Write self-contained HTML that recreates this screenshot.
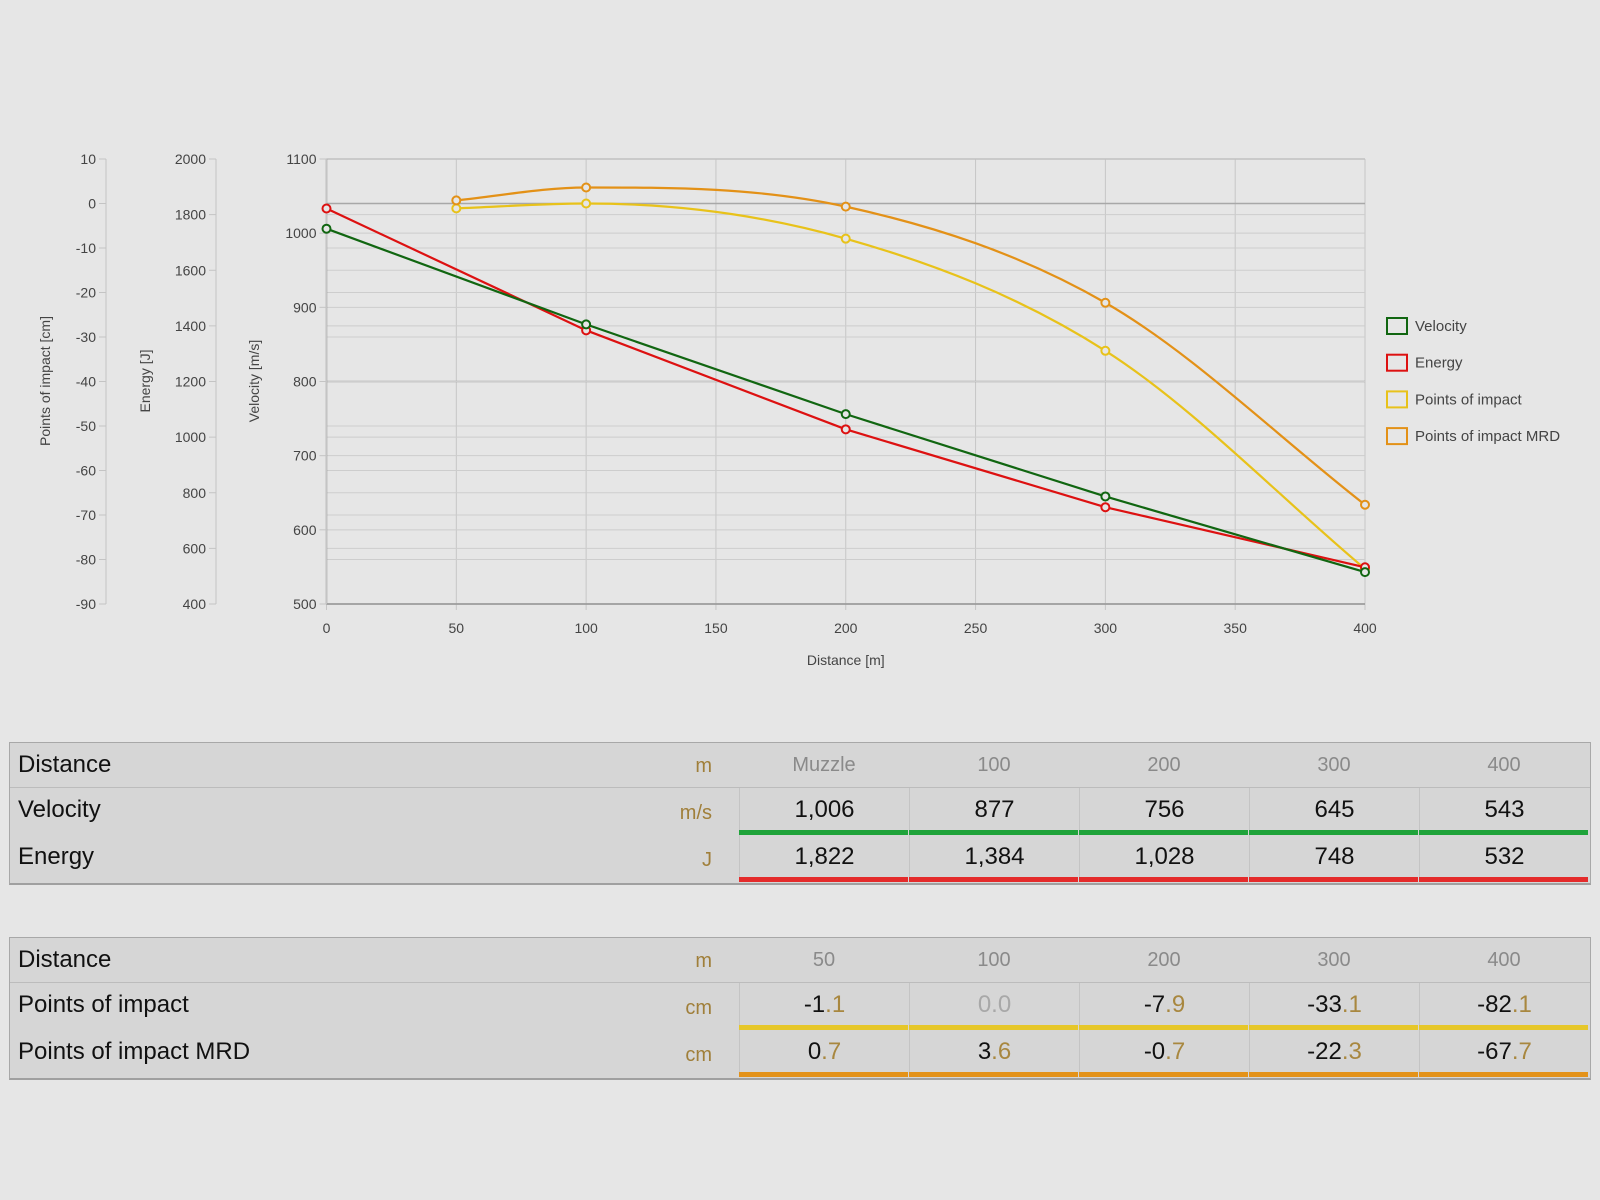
<!DOCTYPE html>
<html><head><meta charset="utf-8">
<style>
body{margin:0;width:1600px;height:1200px;background:#e6e6e6;font-family:"Liberation Sans",sans-serif;overflow:hidden;position:relative}
svg text{font-family:"Liberation Sans",sans-serif}
.tbl{position:absolute;left:9px;width:1580px;background:#d6d6d6;border:1px solid #a8a8a8;border-bottom:2px solid #a0a0a0}
.row{position:absolute;left:0;width:1580px}
.lab{position:absolute;left:8px;font-size:24px;color:#111}
.unit{position:absolute;right:878px;font-size:20px;color:#a07f3a;text-align:right}
.cell{position:absolute;width:170px;text-align:center;font-size:24px;color:#111;box-sizing:border-box;border-left:1px solid #c4c4c4}
.hdr{color:#8a8a8a;font-size:20px;border-left:none}
.dec{color:#a8873f}
.zero .dec{color:#a8a8a8}
.bar{position:absolute;height:5px;width:169px}
</style></head><body>
<svg id="chart" width="1600" height="700" style="position:absolute;left:0;top:0"></svg>

<div class="tbl" style="top:742px;height:140px">
 <div class="row" style="top:0;height:44px;border-bottom:1px solid #bcbcbc">
  <span class="lab" style="top:8px">Distance</span>
  <span class="unit" style="top:12px">m</span>
 </div>
 <div class="row" style="top:45px;height:47px">
  <span class="lab" style="top:8px">Velocity</span>
  <span class="unit" style="top:14px">m/s</span>
 </div>
 <div class="row" style="top:92px;height:47px">
  <span class="lab" style="top:8px">Energy</span>
  <span class="unit" style="top:14px">J</span>
 </div>
 <div id="t1cells"></div>
</div>

<div class="tbl" style="top:937px;height:140px">
 <div class="row" style="top:0;height:44px;border-bottom:1px solid #bcbcbc">
  <span class="lab" style="top:8px">Distance</span>
  <span class="unit" style="top:12px">m</span>
 </div>
 <div class="row" style="top:45px;height:47px">
  <span class="lab" style="top:8px">Points of impact</span>
  <span class="unit" style="top:14px">cm</span>
 </div>
 <div class="row" style="top:92px;height:47px">
  <span class="lab" style="top:8px">Points of impact MRD</span>
  <span class="unit" style="top:14px">cm</span>
 </div>
 <div id="t2cells"></div>
</div>

<script>
const velDist=[0,100,200,300,400];
const velocity=[1006,877,756,645,543];
const energy=[1822,1384,1028,748,532];
const poiDist=[50,100,200,300,400];
const poi=[-1.1,0.0,-7.9,-33.1,-82.1];
const poiMrd=[0.7,3.6,-0.7,-22.3,-67.7];
const xTicks=[0,50,100,150,200,250,300,350,400];
const velTicks=[500,600,700,800,900,1000,1100];
const enTicks=[400,600,800,1000,1200,1400,1600,1800,2000];
const poiTicks=[-90,-80,-70,-60,-50,-40,-30,-20,-10,0,10];
const t1Head=["Muzzle","100","200","300","400"];
const t1Vel=["1,006","877","756","645","543"];
const t1En=["1,822","1,384","1,028","748","532"];
const t2Head=["50","100","200","300","400"];

const NS="http://www.w3.org/2000/svg";
const svg=document.getElementById('chart');
const L=326.5,R=1365,T=159,B=604;
const X=v=>L+(v/400)*(R-L);
const YV=v=>B-(v-500)/600*(B-T);
const YE=v=>B-(v-400)/1600*(B-T);
const YP=v=>B-(v+90)/100*(B-T);
function el(tag,attrs,parent){const e=document.createElementNS(NS,tag);for(const k in attrs)e.setAttribute(k,attrs[k]);(parent||svg).appendChild(e);return e;}

const grid=el('g',{});


xTicks.forEach(t=>{const l=el('line',{x1:X(t),x2:X(t),y1:T,y2:B+(t%50===0?6:0),stroke:'#c6c6c6','stroke-width':1},grid);

});
const hy=[];
velTicks.forEach(t=>hy.push([YV(t),t===800||t===1100||t===500]));
enTicks.forEach(t=>hy.push([YE(t),false]));
poiTicks.forEach(t=>hy.push([YP(t),t===0]));
hy.forEach(([y,dark])=>{const l=el('line',{x1:L,x2:R,y1:y,y2:y,stroke:dark?'#a8a8a8':'#cdcdcd','stroke-width':dark?1.5:1},grid);

});
el('line',{x1:L,x2:L,y1:T,y2:B,stroke:'#9a9a9a','stroke-width':1.5});
el('line',{x1:L,x2:R,y1:B,y2:B,stroke:'#9a9a9a','stroke-width':1.5});

function yAxis(ticks,scale,ax,name,title,tx){
 const g=el('g',{});
 
 
 el('line',{x1:ax,x2:ax,y1:T,y2:B,stroke:'#c4c4c4'},g);
 ticks.forEach(t=>{el('line',{x1:ax-7,x2:ax,y1:scale(t),y2:scale(t),stroke:'#c4c4c4'},g);
  const s=el('text',{x:ax-10,y:scale(t)+5,'text-anchor':'end','font-size':14,fill:'#444'},g);s.textContent=t;
  
  });
 const ti=el('text',{x:tx,y:381,'text-anchor':'middle','font-size':14,fill:'#444',transform:`rotate(-90 ${tx} 381)`},g);
 ti.textContent=title;
 
 
}
yAxis(poiTicks,YP,106,'poi-axis','Points of impact [cm]',50);
yAxis(enTicks,YE,216,'energy-axis','Energy [J]',150);
yAxis(velTicks,YV,L,'velocity-axis','Velocity [m/s]',259);
xTicks.forEach(t=>{const s=el('text',{x:X(t),y:633,'text-anchor':'middle','font-size':14,fill:'#444'});s.textContent=t;
 
 });
const xt=el('text',{x:(L+R)/2,y:665,'text-anchor':'middle','font-size':14,fill:'#444'});xt.textContent='Distance [m]';



function smoothPath(pts){
 const n=pts.length;const d=[],m=[];
 for(let i=0;i<n-1;i++)d.push((pts[i+1][1]-pts[i][1])/(pts[i+1][0]-pts[i][0]));
 m[0]=d[0];m[n-1]=d[n-2];
 for(let i=1;i<n-1;i++)m[i]=d[i-1]*d[i]<=0?0:(d[i-1]+d[i])/2;
 for(let i=0;i<n-1;i++){if(d[i]===0){m[i]=m[i+1]=0;continue;}const a=m[i]/d[i],b=m[i+1]/d[i],s=a*a+b*b;if(s>9){const t=3/Math.sqrt(s);m[i]=t*a*d[i];m[i+1]=t*b*d[i];}}
 let p=`M${pts[0][0]},${pts[0][1]}`;
 for(let i=0;i<n-1;i++){const h=(pts[i+1][0]-pts[i][0])/3;
 p+=` C${pts[i][0]+h},${pts[i][1]+m[i]*h} ${pts[i+1][0]-h},${pts[i+1][1]-m[i+1]*h} ${pts[i+1][0]},${pts[i+1][1]}`;}
 return p;
}
function series(xs,ys,scale,color,name,smooth){
 const g=el('g',{});
 
 
 const pts=xs.map((x,i)=>[X(x),scale(ys[i])]);
 const path=el('path',{d:smooth?smoothPath(pts):'M'+pts.map(p=>p.join(',')).join(' L'),fill:'none',stroke:color,'stroke-width':2.2},g);
 
 
 pts.forEach(p=>{const c=el('circle',{cx:p[0],cy:p[1],r:4,fill:'#e6e6e6',stroke:color,'stroke-width':2},g);
  
  });
}
series(poiDist,poi,YP,'#e8c21a','poi',true);
series(poiDist,poiMrd,YP,'#e39117','poi-mrd',true);
series(velDist,energy,YE,'#dd1111','energy',false);
series(velDist,velocity,YV,'#116611','velocity',false);

const leg=[['Velocity','#116611'],['Energy','#dd1111'],['Points of impact','#e8c21a'],['Points of impact MRD','#e39117']];
leg.forEach((l,i)=>{const y=326+i*36.7;const g=el('g',{});
 
 
 el('rect',{x:1387,y:y-8,width:20,height:16,fill:'none',stroke:l[1],'stroke-width':2},g);
 const t=el('text',{x:1415,y:y+5,'font-size':15,fill:'#444'},g);t.textContent=l[0];});

function fmt(v){const s=v.toFixed(1);const i=s.indexOf('.');return s.slice(0,i)+'<span class="dec">'+s.slice(i)+'</span>';}
function buildTable(id,head,r1,r2,c1,c2,dec){
 const root=document.getElementById(id);
 head.forEach((h,i)=>{const d=document.createElement('div');d.className='cell hdr';
  
  
  d.style.left=(729+i*170)+'px';d.style.top='11px';d.textContent=h;root.appendChild(d);});
 [[r1,c1,45],[r2,c2,92]].forEach(([vals,col,top])=>{
  vals.forEach((v,i)=>{const d=document.createElement('div');d.className='cell';
   
   
   d.style.left=(729+i*170)+'px';d.style.top=top+'px';d.style.height='47px';d.style.paddingTop='8px';
   if(dec){d.innerHTML=fmt(v);if(v===0){d.style.color='#a8a8a8';d.classList.add('zero');}}else d.textContent=v;
   root.appendChild(d);
   const b=document.createElement('div');b.className='bar';
   
   
   b.style.left=(729+i*170)+'px';b.style.top=(top+42)+'px';b.style.background=col;root.appendChild(b);});});
}
buildTable('t1cells',t1Head,t1Vel,t1En,'#1fa33a','#e42b2b',false);
buildTable('t2cells',t2Head,poi,poiMrd,'#e6c72a','#e3921a',true);
</script>
</body></html>
